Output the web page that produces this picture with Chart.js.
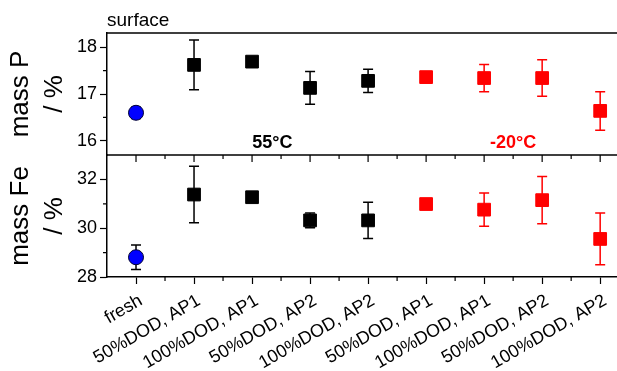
<!DOCTYPE html>
<html>
<head>
<meta charset="utf-8">
<script src="https://cdn.jsdelivr.net/npm/chart.js@4.4.1/dist/chart.umd.min.js"></script>
<style>
  html, body { margin: 0; padding: 0; background: #fff; overflow: hidden; }
  #wrap { width: 617px; height: 371px; position: relative; }
</style>
</head>
<body>
<div id="wrap"><canvas id="grafico"></canvas></div>
<script>
const categorias = ["fresh", "50%DOD, AP1", "100%DOD, AP1", "50%DOD, AP2", "100%DOD, AP2",
  "50%DOD, AP1", "100%DOD, AP1", "50%DOD, AP2", "100%DOD, AP2"];
const grupos = ["fresh", "55", "55", "55", "55", "-20", "-20", "-20", "-20"];
const massaP = [16.60, 17.62, 17.69, 17.13, 17.28, 17.36, 17.34, 17.34, 16.64];
const erroP = [0.12, 0.53, 0.05, 0.35, 0.25, 0.05, 0.29, 0.39, 0.41];
const massaFe = [28.81, 31.38, 31.27, 30.32, 30.32, 30.99, 30.76, 31.15, 29.56];
const erroFe = [0.50, 1.16, 0.10, 0.30, 0.74, 0.10, 0.68, 0.97, 1.06];
const ticksP = [16, 17, 18];
const ticksFe = [28, 30, 32];
const rotulosTemp = [
  { texto: "55°C", x: 2.35, cor: "#000000" },
  { texto: "-20°C", x: 6.5, cor: "#ff0000" }
];

const FONTE = "'Liberation Sans', Arial, sans-serif";

const estilos = {
  fresh: { cor: "#0000ff", borda: "#000033", erro: "#000000", forma: "circle", raio: 7.5 },
  "55": { cor: "#000000", borda: "#000000", erro: "#000000", forma: "rect", raio: 9 },
  "-20": { cor: "#ff0000", borda: "#ff0000", erro: "#ff0000", forma: "rect", raio: 9 }
};

function montarDatasets(valores, erros, eixo) {
  return Object.keys(estilos).map(g => {
    const e = estilos[g];
    return {
      data: valores.map((v, i) => ({ x: i, y: v, erro: erros[i] })).filter((p, i) => grupos[i] === g),
      yAxisID: eixo,
      showLine: false,
      pointStyle: e.forma,
      pointRadius: e.raio,
      pointHoverRadius: e.raio,
      backgroundColor: e.cor,
      borderColor: e.borda,
      borderWidth: 1,
      corErro: e.erro
    };
  });
}

// barras de erro, desenhadas antes dos marcadores
const barrasErro = {
  id: "barrasErro",
  beforeDatasetsDraw(chart) {
    const ctx = chart.ctx;
    chart.data.datasets.forEach((ds, di) => {
      const meta = chart.getDatasetMeta(di);
      const escala = chart.scales[ds.yAxisID];
      ctx.save();
      ctx.strokeStyle = ds.corErro;
      ctx.lineWidth = 1.5;
      meta.data.forEach((pt, i) => {
        const d = ds.data[i];
        const yTopo = escala.getPixelForValue(d.y + d.erro);
        const yBase = escala.getPixelForValue(d.y - d.erro);
        ctx.beginPath();
        ctx.moveTo(pt.x, yTopo);
        ctx.lineTo(pt.x, yBase);
        ctx.moveTo(pt.x - 5, yTopo);
        ctx.lineTo(pt.x + 5, yTopo);
        ctx.moveTo(pt.x - 5, yBase);
        ctx.lineTo(pt.x + 5, yBase);
        ctx.stroke();
      });
      ctx.restore();
    });
  }
};

// moldura, ticks menores e textos
const moldura = {
  id: "moldura",
  afterDraw(chart) {
    const ctx = chart.ctx;
    const area = chart.chartArea;
    const x = chart.scales.x;
    const yP = chart.scales.yP;
    const yFe = chart.scales.yFe;
    const meio = yP.bottom;
    ctx.save();
    ctx.strokeStyle = "#000";
    ctx.lineWidth = 1.5;
    ctx.beginPath();
    ctx.moveTo(area.left, area.top);
    ctx.lineTo(chart.width, area.top);
    ctx.moveTo(area.left, meio);
    ctx.lineTo(chart.width, meio);
    ctx.stroke();

    ctx.lineWidth = 1.2;
    ctx.beginPath();
    for (let i = 0; i < categorias.length; i++) {
      const px = x.getPixelForValue(i);
      ctx.moveTo(px, meio);
      ctx.lineTo(px, meio + 7);
      const pm = x.getPixelForValue(i + 0.5);
      if (pm < chart.width) {
        ctx.moveTo(pm, meio);
        ctx.lineTo(pm, meio + 4);
        ctx.moveTo(pm, area.bottom);
        ctx.lineTo(pm, area.bottom + 4);
      }
    }
    [16.5, 17.5].forEach(v => {
      const py = yP.getPixelForValue(v);
      ctx.moveTo(area.left, py);
      ctx.lineTo(area.left - 4, py);
    });
    [29, 31].forEach(v => {
      const py = yFe.getPixelForValue(v);
      ctx.moveTo(area.left, py);
      ctx.lineTo(area.left - 4, py);
    });
    ctx.stroke();

    ctx.fillStyle = "#000";
    ctx.font = "19px " + FONTE;
    ctx.textAlign = "left";
    ctx.textBaseline = "alphabetic";
    ctx.fillText("surface", area.left, area.top - 7);

    ctx.font = "bold 18px " + FONTE;
    ctx.textAlign = "center";
    rotulosTemp.forEach(r => {
      ctx.fillStyle = r.cor;
      ctx.fillText(r.texto, x.getPixelForValue(r.x), yP.getPixelForValue(15.85));
    });
    ctx.restore();
  }
};

const eixoY = (min, max, ticks, titulo) => ({
  type: "linear",
  position: "left",
  stack: "paineis",
  stackWeight: 1,
  min: min,
  max: max,
  afterBuildTicks: s => { s.ticks = ticks.map(v => ({ value: v })); },
  afterFit: s => { s.width = 107; },
  grid: { display: true, drawOnChartArea: false, drawTicks: true, tickLength: 7, tickWidth: 1.2, tickColor: "#000" },
  border: { display: true, color: "#000", width: 1.5 },
  ticks: { padding: 3, color: "#000", font: { family: FONTE, size: 18 } },
  title: {
    display: true,
    text: titulo,
    color: "#000",
    font: { family: FONTE, size: 26, lineHeight: 1.3 },
    padding: { top: 4, bottom: 0 }
  }
});

new Chart(document.getElementById("grafico").getContext("2d"), {
  type: "scatter",
  data: {
    datasets: [
      ...montarDatasets(massaP, erroP, "yP"),
      ...montarDatasets(massaFe, erroFe, "yFe")
    ]
  },
  options: {
    responsive: true,
    maintainAspectRatio: false,
    animation: false,
    layout: { autoPadding: false, padding: { top: 33, left: 0, right: 0, bottom: 0 } },
    plugins: { legend: { display: false }, tooltip: { enabled: false }, title: { display: false } },
    scales: {
      x: {
        type: "linear",
        min: -0.5,
        max: 8.29,
        afterBuildTicks: s => { s.ticks = categorias.map((c, i) => ({ value: i })); },
        afterFit: s => { s.height = 94; s.paddingLeft = 0; s.paddingRight = 0; },
        grid: { display: true, drawOnChartArea: false, drawTicks: true, tickLength: 7, tickWidth: 1.2, tickColor: "#000" },
        border: { display: true, color: "#000", width: 1.5 },
        ticks: {
          callback: v => categorias[v],
          autoSkip: false,
          minRotation: 30,
          maxRotation: 30,
          padding: 6,
          labelOffset: 5,
          color: "#000",
          font: { family: FONTE, size: 18 }
        }
      },
      yFe: eixoY(28, 33, ticksFe, ["mass Fe", "/ %"]),
      yP: eixoY(15.7, 18.3, ticksP, ["mass P", "/ %"])
    }
  },
  plugins: [barrasErro, moldura]
});
</script>
</body>
</html>
